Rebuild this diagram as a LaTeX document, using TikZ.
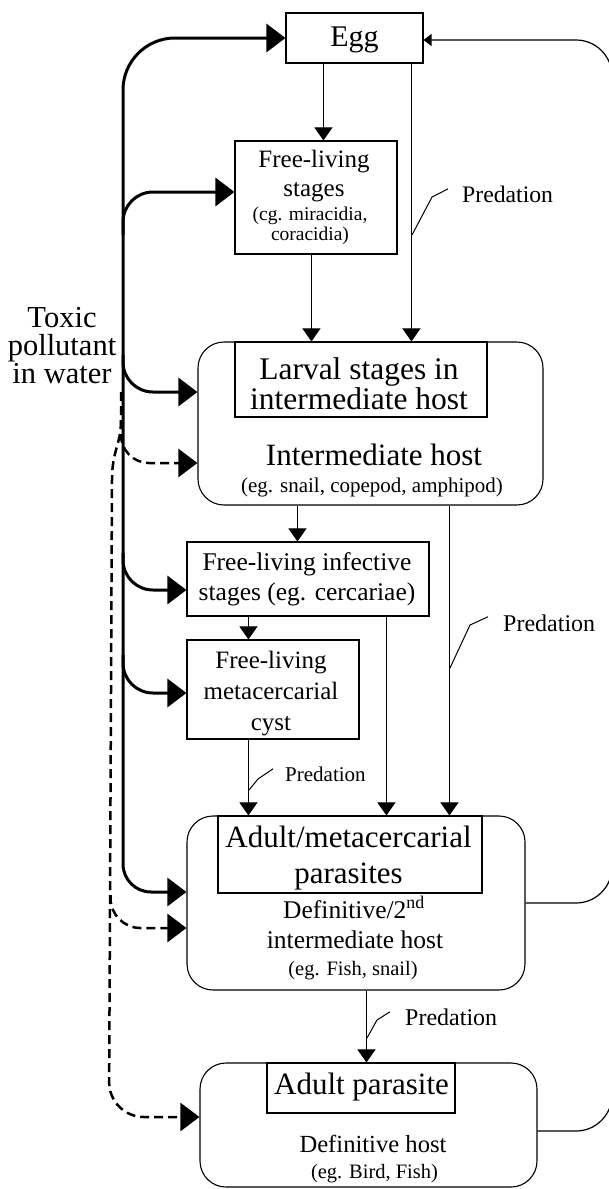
\documentclass[tikz,border=0pt]{standalone}
\usepackage{fontspec}
\setmainfont{Liberation Serif}
\usetikzlibrary{arrows.meta,calc}
\newcommand\fsz[1]{\fontsize{#1}{#1}\selectfont}
\begin{document}
\begin{tikzpicture}[x=1pt,y=-1pt,
  box/.style={draw, line width=1.1pt, inner sep=0pt},
  hostbox/.style={box, rounded corners=26pt},
  lbl/.style={inner sep=0pt, anchor=base},
  plbl/.style={inner sep=0pt, anchor=base west},
  thinarr/.style={line width=1pt, -{Triangle[length=13pt,width=18pt]}},
  thk/.style={line width=3pt, -{Triangle[length=19pt,width=28pt]}},
  dsh/.style={line width=2.5pt, dash pattern=on 9pt off 5pt, -{Triangle[length=19pt,width=28pt]}},
  loopline/.style={line width=1.2pt, rounded corners=36pt},
  lead/.style={line width=1pt}
]
\useasboundingbox (0,0) rectangle (608,1189);

% ---------- boxes ----------
\node[box, minimum width=137pt, minimum height=50pt] (egg) at (354.5,38) {};
\node[box, minimum width=162pt, minimum height=113pt] (fls) at (316,197.5) {};
\node[hostbox, minimum width=345pt, minimum height=163pt] (ih) at (370.5,423.5) {};
\node[box, minimum width=252pt, minimum height=75pt] (larv) at (361,379.5) {};
\node[box, minimum width=242pt, minimum height=74pt] (fis) at (308,579) {};
\node[box, minimum width=172pt, minimum height=99pt] (cyst) at (273,689.5) {};
\node[hostbox, minimum width=338pt, minimum height=174pt] (dh2) at (356,903) {};
\node[box, minimum width=264pt, minimum height=77pt] (adm) at (350,854.5) {};
\node[hostbox, minimum width=337pt, minimum height=124pt] (dh) at (368.5,1125) {};
\node[box, minimum width=188pt, minimum height=50pt] (adp) at (361,1088) {};

% ---------- texts ----------
\node[lbl, font=\fsz{30}] (tegg) at (354.5,46) {Egg};

\node[lbl, font=\fsz{25}] (tfls1) at (314,167) {Free-living};
\node[lbl, font=\fsz{25}] (tfls2) at (314,196) {stages};
\node[lbl, font=\fsz{19.5}] (tfls3) at (310,220) {(cg. miracidia,};
\node[lbl, font=\fsz{19.5}] (tfls4) at (310,240) {coracidia)};

\node[lbl, font=\fsz{31.5}] (tlarv1) at (359,379) {Larval stages in};
\node[lbl, font=\fsz{31.5}] (tlarv2) at (359,409) {intermediate host};
\node[lbl, font=\fsz{31}] (tih1) at (374,465) {Intermediate host};
\node[lbl, font=\fsz{21}] (tih2) at (372,492) {(eg. snail, copepod, amphipod)};

\node[lbl, font=\fsz{25.5}] (tfis1) at (307,570) {Free-living infective};
\node[lbl, font=\fsz{25.5}] (tfis2) at (307,600) {stages (eg. cercariae)};

\node[lbl, font=\fsz{25}] (tcyst1) at (271,668) {Free-living};
\node[lbl, font=\fsz{25}] (tcyst2) at (271,699) {metacercarial};
\node[lbl, font=\fsz{25}] (tcyst3) at (271,730) {cyst};

\node[lbl, font=\fsz{31}] (tadm1) at (348.5,847) {Adult/metacercarial};
\node[lbl, font=\fsz{31}] (tadm2) at (348.5,883) {parasites};
\node[lbl, font=\fsz{25.5}] (tdh21) at (354,918) {Definitive/2\textsuperscript{nd}};
\node[lbl, font=\fsz{25.5}] (tdh22) at (355,948) {intermediate host};
\node[lbl, font=\fsz{20.5}] (tdh23) at (353,975) {(eg. Fish, snail)};

\node[lbl, font=\fsz{31}] (tadp) at (361.5,1094) {Adult parasite};
\node[lbl, font=\fsz{24.6}] (tdh1) at (373,1152) {Definitive host};
\node[lbl, font=\fsz{20.5}] (tdh2) at (374.5,1178) {(eg. Bird, Fish)};

\node[lbl, font=\fsz{30.5}] (tox1) at (62,327) {Toxic};
\node[lbl, font=\fsz{30.5}] (tox2) at (62,355) {pollutant};
\node[lbl, font=\fsz{30.5}] (tox3) at (62,383) {in water};

\node[plbl, font=\fsz{23.7}] (p1) at (462,202) {Predation};
\node[plbl, font=\fsz{24}] (p2) at (503,631) {Predation};
\node[plbl, font=\fsz{21}] (p3) at (285,781) {Predation};
\node[plbl, font=\fsz{24}] (p4) at (405,1025) {Predation};

% ---------- thin arrows ----------
\draw[thinarr] ($(egg.south west)+(38,0)$) -- ($(fls.north west)+(89,0)$);
\draw[thinarr] ($(egg.south west)+(126,0)$) -- ($(larv.north west)+(177,0)$);
\draw[thinarr] ($(fls.south west)+(77,0)$) -- ($(larv.north west)+(77,0)$);
\draw[thinarr] ($(ih.south west)+(100,0)$) -- ($(fis.north west)+(111,0)$);
\draw[thinarr] ($(ih.south west)+(252,0)$) -- ($(dh2.north west)+(263,0)$);
\draw[thinarr] ($(fis.south west)+(62,0)$) -- ($(cyst.north west)+(62,0)$);
\draw[thinarr] ($(fis.south west)+(200,0)$) -- ($(dh2.north west)+(200,0)$);
\draw[thinarr] ($(cyst.south west)+(62,0)$) -- ($(dh2.north west)+(62,0)$);
\draw[thinarr] ($(dh2.south west)+(180,0)$) -- ($(dh.north west)+(167,0)$);

% ---------- predation leaders ----------
\draw[lead] (412,235) -- (432,197) -- ($(p1.west)+(-14,-5)$);
\draw[lead] (450,668) -- (470,625) -- ($(p2.west)+(-15,-6)$);
\draw[lead] (249,790) -- (258,779) -- ($(p3.west)+(-12,-5)$);
\draw[lead] (367,1038) -- (377,1020) -- ($(p4.west)+(-15,-5)$);

% ---------- right return loop ----------
\draw[loopline, -{Triangle[length=8pt,width=12pt]}] (dh2.east) -- (612,903) -- (612,40) -- ($(egg.east)+(0,2)$);
\draw[loopline] ($(dh.east)+(0,6)$) -- (612,1131) -- (612,880);

% ---------- toxic pollutant: solid ----------
\draw[thk, rounded corners=52pt] (123,600) |- (egg.west);
\draw[thk, rounded corners=28pt] (123,600) |- ($(dh2.west)+(0,-11)$);
\draw[thk, rounded corners=30pt] (123,235) |- ($(fls.west)+(0,-5.5)$);
\draw[thk, rounded corners=30pt] (123,355) |- ($(ih.west)+(0,-31.5)$);
\draw[thk, rounded corners=30pt] (123,553) |- ($(fis.west)+(0,11)$);
\draw[thk, rounded corners=30pt] (123,655) |- ($(cyst.west)+(0,3.5)$);

% ---------- toxic pollutant: dashed ----------
\draw[dsh] (121,392) -- (121,420) .. controls (121,445) and (112,450) .. (112,480)
  [rounded corners=35pt] -- (109,1117) -- ($(dh.west)+(0,-8)$);
\draw[dsh, rounded corners=28pt] (121,420) |- ($(ih.west)+(0,39.5)$);
\draw[dsh, rounded corners=30pt] (110.5,895) |- ($(dh2.west)+(0,25)$);
\end{tikzpicture}
\end{document}
